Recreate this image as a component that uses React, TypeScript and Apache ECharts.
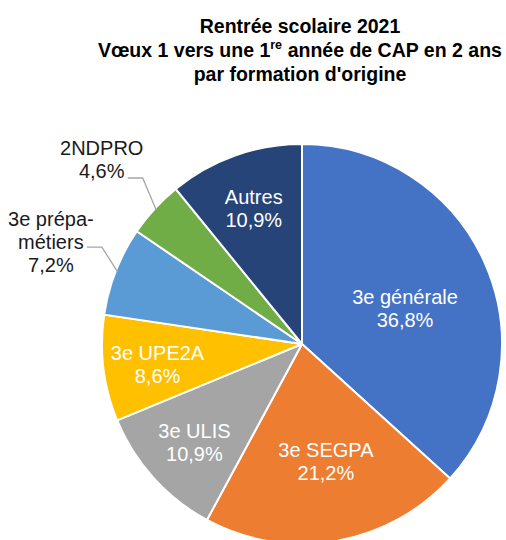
import React, { useEffect, useRef } from "react";
import * as echarts from "echarts";

const categories = ["3e générale", "3e SEGPA", "3e ULIS", "3e UPE2A", "3e prépa-métiers", "2NDPRO", "Autres"];
const labelNames = ["3e générale", "3e SEGPA", "3e ULIS", "3e UPE2A", "3e prépa-\nmétiers", "2NDPRO", "Autres"];
const values = [36.8, 21.2, 10.9, 8.6, 7.2, 4.6, 10.9];
const colors = ["#4472C4", "#ED7D31", "#A5A5A5", "#FFC000", "#5B9BD5", "#70AD47", "#264478"];
const outsideLabel = [false, false, false, false, true, true, false];
const labelRadius = [0.545, 0.6, 0.73, 0.73, 1.355, 1.36, 0.72];
const labelAngleShift = [4.8, -1.8, -0.5, -1.2, 0.7, 0, 0];
// leader line end, relative to the label centre, and horizontal run length
const leaderEnd: Record<number, [number, number]> = { 4: [36, 5], 5: [26, 18] };
const leaderRun = 15;

const CX = 302;
const CY = 344;
const R = 200;
const FONT = "'Liberation Sans', Arial, sans-serif";

export default function App() {
  const ref = useRef<HTMLDivElement>(null);
  useEffect(() => {
    if (!ref.current) return;
    const chart = echarts.init(ref.current, null, { renderer: "svg" });
    const total = values.reduce((a, b) => a + b, 0);
    const midAngles: number[] = [];
    let cum = 0;
    values.forEach((v) => {
      midAngles.push(((cum + v / 2) / total) * 360);
      cum += v;
    });
    const labelCenter = (i: number) => {
      const a = ((midAngles[i] + labelAngleShift[i]) * Math.PI) / 180;
      const d = labelRadius[i] * R;
      return [CX + Math.sin(a) * d, CY - Math.cos(a) * d];
    };
    const leaders = Object.keys(leaderEnd).map((k) => {
      const i = Number(k);
      const a = (midAngles[i] * Math.PI) / 180;
      const start = [CX + Math.sin(a) * (R - 2), CY - Math.cos(a) * (R - 2)];
      const c = labelCenter(i);
      const end = [c[0] + leaderEnd[i][0], c[1] + leaderEnd[i][1]];
      const bend = [end[0] + leaderRun, end[1]];
      return {
        type: "polyline",
        z: 10,
        shape: { points: [start, bend, end] },
        style: { stroke: "#A6A6A6", lineWidth: 1.3, fill: null },
      };
    });
    const fmt = (v: number) => v.toFixed(1).replace(".", ",") + "%";
    chart.setOption({
      animation: false,
      backgroundColor: "#ffffff",
      title: {
        left: 295,
        top: 9,
        textAlign: "center",
        text:
          "{a|Rentrée scolaire 2021}\n{a|Vœux 1 vers une 1}{s|re}{a| année de CAP en 2 ans}\n{a|par formation d'origine}",
        textStyle: {
          rich: {
            a: { fontFamily: FONT, fontWeight: "bold", fontSize: 19.5, color: "#000", lineHeight: 24 },
            s: { fontFamily: FONT, fontWeight: "bold", fontSize: 12.5, color: "#000", lineHeight: 24, verticalAlign: "top", padding: [0, 0, 8, 0] },
          },
        },
      },
      graphic: leaders,
      series: [
        {
          type: "pie",
          center: [CX, CY],
          radius: R,
          startAngle: 90,
          clockwise: true,
          avoidLabelOverlap: false,
          itemStyle: { borderColor: "#ffffff", borderWidth: 2 },
          labelLine: { show: false },
          data: categories.map((c, i) => ({
            name: c,
            value: values[i],
            itemStyle: { color: colors[i] },
            label: {
              position: outsideLabel[i] ? "outside" : "inside",
              color: outsideLabel[i] ? "#1a1a1a" : "#ffffff",
            },
          })),
          label: {
            show: true,
            fontFamily: FONT,
            fontSize: 20,
            lineHeight: 23,
            align: "center",
            formatter: (p: any) => labelNames[p.dataIndex] + "\n" + fmt(p.value),
          },
          labelLayout: (p: any) => {
            const c = labelCenter(p.dataIndex);
            return { x: c[0], y: c[1], align: "center", verticalAlign: "middle" };
          },
        },
      ],
    });
    return () => chart.dispose();
  }, []);
  return <div ref={ref} style={{ position: "fixed", left: 0, top: 0, width: 506, height: 540 }} />;
}
